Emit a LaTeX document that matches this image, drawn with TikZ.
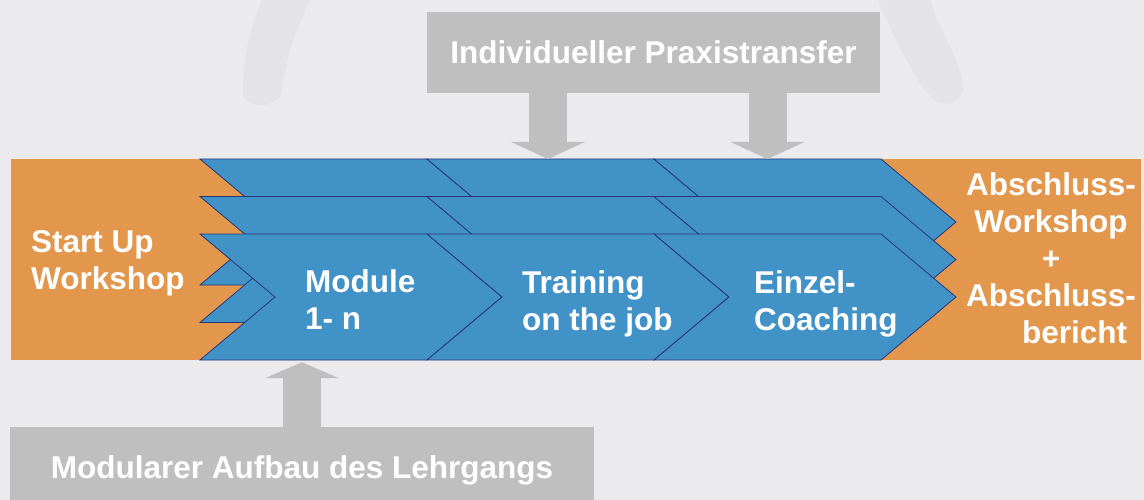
\documentclass[tikz,border=0pt]{standalone}
\usepackage{fontspec}
\setmainfont{Liberation Sans}
\usetikzlibrary{arrows.meta}

\definecolor{fondgris}{RGB}{235,235,237}
\definecolor{ghostgray}{RGB}{228,228,232}
\definecolor{bandorange}{RGB}{226,151,77}
\definecolor{chevblue}{RGB}{65,146,199}
\definecolor{chevline}{RGB}{40,55,120}
\definecolor{boxgray}{RGB}{191,191,191}

\begin{document}
\begin{tikzpicture}[x=1pt, y=-1pt]

    % Styles
    \tikzstyle{band} = [rectangle, fill=bandorange, inner sep=0pt, minimum width=1130pt, minimum height=201pt]
    \tikzstyle{chevron} = [fill=chevblue, draw=chevline, line width=0.8pt, line join=miter]
    \tikzstyle{whitetext} = [text=white, inner sep=0pt, align=left, font=\bfseries\fontsize{31.5}{37}\selectfont]
    \tikzstyle{graybox} = [rectangle, fill=boxgray, text=white, inner sep=0pt, font=\bfseries\fontsize{31.5}{37}\selectfont]
    \tikzstyle{arrow} = [draw=boxgray, line width=38pt, -{Triangle[length=17pt, width=74pt, line width=0pt]}]

    % Fond
    \fill[fondgris] (0,0) rectangle (1144,500);
    \useasboundingbox (0,0) rectangle (1144,500);
    \fill[ghostgray] (262,0) .. controls (250,30) and (243,55) .. (243,92) .. controls (244,108) and (270,110) .. (281,95) .. controls (285,70) and (288,45) .. (310,0) -- cycle;
    \fill[ghostgray] (878,0) .. controls (895,40) and (915,80) .. (932,98) .. controls (942,108) and (962,105) .. (963,88) .. controls (962,60) and (940,35) .. (930,0) -- cycle;

    % Bande et chevrons
    \node (band) [band] at (576,259.5) {};
    \foreach \y in {159,196.5,234}
      \foreach \x in {200,427,654}
        \draw[chevron] (\x,\y) -- ++(227,0) -- ++(75,63) -- ++(-75,63) -- ++(-227,0) -- ++(75,-63) -- cycle;

    % Textes
    \node (start) [whitetext, anchor=west] at (31,263) {Start Up\\Workshop};
    \node (module) [whitetext, anchor=west] at (305,300) {Module\\1- n};
    \node (training) [whitetext, anchor=west] at (522,303.5) {Training\\on the job};
    \node (coaching) [whitetext, anchor=west] at (754,303.5) {Einzel-\\Coaching};
    \node (abschluss) [whitetext, align=center] at (1051,258.7) {Abschluss-\\Workshop\\+\\Abschluss-\\\hspace*{1.5em}bericht};

    % Blocs gris
    \node (praxis) [graybox, minimum width=453pt, minimum height=81pt] at (653.5,52.5) {Individueller Praxistransfer};
    \node (aufbau) [graybox, minimum width=584pt, minimum height=86pt] at (302,470) {Modularer Aufbau des Lehrgangs};
    \coordinate (cible1) at (548,159);
    \coordinate (cible2) at (767.5,159);

    % Flèches
    \draw [arrow] (praxis.south -| cible1) -- (cible1);
    \draw [arrow] (praxis.south -| cible2) -- (cible2);
    \draw [arrow, -{Triangle[length=16pt, width=74pt, line width=0pt]}, shorten >=2pt] (aufbau.north) -- (aufbau.north |- band.south);

\end{tikzpicture}
\end{document}
